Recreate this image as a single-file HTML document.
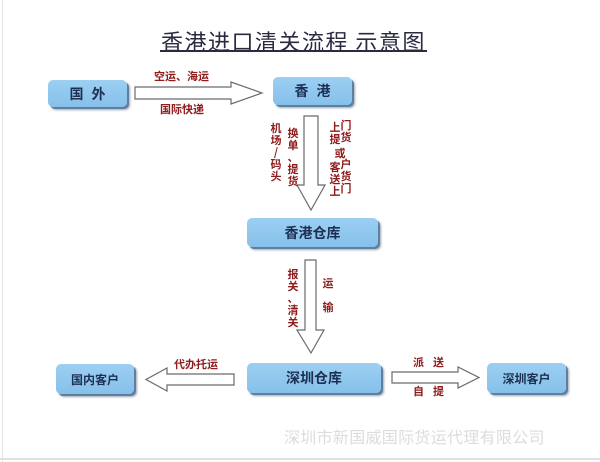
<!DOCTYPE html>
<html><head><meta charset="utf-8"><style>
body{margin:0;width:600px;height:462px;background:#fff;position:relative;overflow:hidden;font-family:"Liberation Sans","Noto Sans CJK SC",sans-serif}
.a{position:absolute}
.box{position:absolute;background:linear-gradient(#9ccff2,#86c0ea);border-radius:5px;box-shadow:2px 2px 0 #5f7f9e,3px 3px 2px rgba(60,80,110,.5);color:#1d2f52;font-weight:bold;display:flex;align-items:center;justify-content:center}
.l{position:absolute;color:#8e1c1c;font-weight:bold;font-size:11px;line-height:11px;font-family:"Noto Sans CJK SC",sans-serif;white-space:nowrap}
.v{width:12px;text-align:center;line-height:12px}
</style></head><body>
<div class="a" style="left:2px;top:0;width:1px;height:462px;background:#e4e4e4"></div>
<div class="a" style="left:0;top:458px;width:600px;height:2px;background:#e0e0e0"></div>
<div class="a" style="left:161px;top:25px;font-size:22px;color:#2a2a40;font-family:'Noto Sans CJK SC',sans-serif;white-space:nowrap;letter-spacing:1.5px">香港进口清关流程&nbsp;示意图</div>
<div class="a" style="left:160px;top:50px;width:267px;height:1.5px;background:#2a2a40"></div>

<div class="box" style="left:48px;top:80px;width:79px;height:27px;font-size:14px;letter-spacing:8px;padding-left:8px;box-sizing:border-box">国外</div>
<div class="box" style="left:273px;top:77px;width:79px;height:28px;font-size:14px;letter-spacing:8px;padding-left:8px;box-sizing:border-box">香港</div>
<div class="box" style="left:247px;top:218px;width:131px;height:29px;font-size:14px">香港仓库</div>
<div class="box" style="left:247px;top:363px;width:134px;height:30px;font-size:14px">深圳仓库</div>
<div class="box" style="left:56px;top:364px;width:78px;height:30px;font-size:12px">国内客户</div>
<div class="box" style="left:487px;top:363px;width:79px;height:30px;font-size:12px">深圳客户</div>

<svg class="a" style="left:0;top:0" width="600" height="462">
<g fill="#fff" stroke="#6a6a6a" stroke-width="1.2">
<polygon points="135,87 231,87 231,82 262,93 231,104 231,99 135,99"/>
<polygon points="304,116 318,116 318,185 325,185 311,210 297,185 304,185"/>
<polygon points="305,260 316,260 316,330 324,330 311,353 297,330 305,330"/>
<polygon points="234,374 167,374 167,368 146,379.5 167,391 167,385 234,385"/>
<polygon points="392,372 458,372 458,367 479,377.5 458,388 458,383 392,383"/>
</g>
</svg>

<div class="l" style="left:154px;top:71px">空运、海运</div>
<div class="l" style="left:160px;top:104px">国际快递</div>
<div class="l v" style="left:270px;top:122px">机<br>场<br>/<br>码<br>头</div>
<div class="l v" style="left:287px;top:127px">换<br>单<br>、<br>提<br>货</div>
<div class="l v" style="left:329px;top:121px">上<br>提</div>
<div class="l v" style="left:340px;top:119px">门<br>货</div>
<div class="l v" style="left:334px;top:147px">或</div>
<div class="l v" style="left:329px;top:161px">客<br>送<br>上</div>
<div class="l v" style="left:340px;top:158px">户<br>货<br>门</div>
<div class="l v" style="left:287px;top:268px">报<br>关<br>、<br>清<br>关</div>
<div class="l v" style="left:322px;top:277px">运</div>
<div class="l v" style="left:322px;top:301px">输</div>
<div class="l" style="left:174px;top:359px">代办托运</div>
<div class="l" style="left:413px;top:357px;letter-spacing:9px">派送</div>
<div class="l" style="left:413px;top:386px;letter-spacing:9px">自提</div>
<div class="a" style="left:284px;top:424px;font-size:16px;color:#dcdcdc;white-space:nowrap;letter-spacing:0.3px;font-family:'Noto Sans CJK SC',sans-serif">深圳市新国威国际货运代理有限公司</div>
</body></html>
